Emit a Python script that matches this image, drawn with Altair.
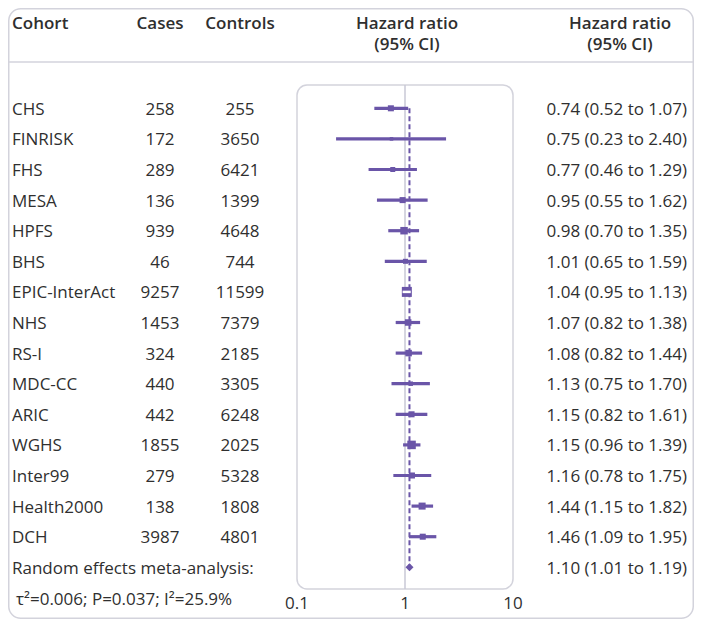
import altair as alt
import pandas as pd

# ---- data -------------------------------------------------------------
cohorts = ["CHS", "FINRISK", "FHS", "MESA", "HPFS", "BHS", "EPIC-InterAct", "NHS",
           "RS-I", "MDC-CC", "ARIC", "WGHS", "Inter99", "Health2000", "DCH"]
cases = [258, 172, 289, 136, 939, 46, 9257, 1453, 324, 440, 442, 1855, 279, 138, 3987]
controls = [255, 3650, 6421, 1399, 4648, 744, 11599, 7379, 2185, 3305, 6248, 2025, 5328, 1808, 4801]
hr = [0.74, 0.75, 0.77, 0.95, 0.98, 1.01, 1.04, 1.07, 1.08, 1.13, 1.15, 1.15, 1.16, 1.44, 1.46]
lo = [0.52, 0.23, 0.46, 0.55, 0.70, 0.65, 0.95, 0.82, 0.82, 0.75, 0.82, 0.96, 0.78, 1.15, 1.09]
hi = [1.07, 2.40, 1.29, 1.62, 1.35, 1.59, 1.13, 1.38, 1.44, 1.70, 1.61, 1.39, 1.75, 1.82, 1.95]
weights = [5.8, 2.0, 4.0, 5.8, 9.0, 4.0, 16.0, 6.8, 6.8, 3.2, 5.8, 11.6, 5.8, 7.9, 5.8]

meta_label = "Random effects meta-analysis:"
meta_stats = "τ²=0.006; P=0.037; I²=25.9%"
meta_hr, meta_lo, meta_hi = 1.10, 1.01, 1.19
axis_ticks = [0.1, 1, 10]

headers_left = ["Cohort", "Cases", "Controls"]
header_hr = ["Hazard ratio", "(95% CI)"]

# ---- tables -----------------------------------------------------------
df = pd.DataFrame(dict(cohort=cohorts, cases=cases, controls=controls,
                       hr=hr, lo=lo, hi=hi, w=weights))
df["row"] = range(len(df))
df["label"] = [f"{h:.2f} ({l:.2f} to {u:.2f})" for h, l, u in zip(hr, lo, hi)]

meta = pd.DataFrame(dict(hr=[meta_hr], lo=[meta_lo], hi=[meta_hi],
                         row=[len(cohorts)], top=[0],
                         label=[f"{meta_hr:.2f} ({meta_lo:.2f} to {meta_hi:.2f})"],
                         name=[meta_label], stats=[meta_stats]))
ticks = pd.DataFrame(dict(t=axis_ticks, lab=["0.1", "1", "10"]))
box = pd.DataFrame(dict(a=[min(axis_ticks)], b=[max(axis_ticks)], one=[1.0]))
one = pd.DataFrame(dict(z=[0]))

# ---- style ------------------------------------------------------------
PURPLE = "#6a55a8"
TXT = "#2f2f2f"
GRAY = "#d3d3dc"
FONT = "Open Sans"
FS = 17
W, H = 686, 611

xs = alt.Scale(type="log", domain=[0.1, 10], range=[289, 505], nice=False)
ys = alt.Scale(domain=[0, 15], range=[100.3, 559.3], nice=False, zero=False)


def X(f):
    return alt.X(f, type="quantitative", scale=xs, axis=None)


def Y(f):
    return alt.Y(f, type="quantitative", scale=ys, axis=None)


layers = []

# outer border
layers.append(alt.Chart(one).mark_rect(fillOpacity=0, stroke=GRAY, strokeWidth=1.5,
                                       cornerRadius=12).encode(
    x=alt.value(0.75), x2=alt.value(W - 0.75), y=alt.value(0.75), y2=alt.value(H - 0.75)))
# header separator
layers.append(alt.Chart(one).mark_rule(color=GRAY, strokeWidth=1.5).encode(
    x=alt.value(0), x2=alt.value(W), y=alt.value(54)))
# plot box
layers.append(alt.Chart(box).mark_rect(fillOpacity=0, stroke=GRAY, strokeWidth=1.5,
                                       cornerRadius=10).encode(
    x=X("a"), x2="b", y=alt.value(77), y2=alt.value(581)))
# line of no effect
layers.append(alt.Chart(box).mark_rule(color="#c8c9d6", strokeWidth=1.5).encode(
    x=X("one"), y=alt.value(77), y2=alt.value(581)))
# dashed pooled line
layers.append(alt.Chart(meta).mark_rule(color=PURPLE, strokeWidth=2, strokeDash=[5, 3]).encode(
    x=X("hr"), y=Y("top"), y2="row"))
# CIs
layers.append(alt.Chart(df).mark_rule(color=PURPLE, strokeWidth=3.2).encode(
    x=X("lo"), x2="hi", y=Y("row")))
# squares
layers.append(alt.Chart(df).mark_square(color=PURPLE, filled=True, opacity=1).encode(
    x=X("hr"), y=Y("row"),
    size=alt.Size("w:Q", scale=alt.Scale(domain=[0, 16], range=[0, 100]), legend=None)))
# CI inside the large square shown in white
layers.append(alt.Chart(df).transform_filter("datum.w >= 15").mark_rule(
    color="white", strokeWidth=2.5).encode(x=X("lo"), x2="hi", y=Y("row")))
# pooled diamond
layers.append(alt.Chart(meta).mark_point(shape="diamond", filled=True, color=PURPLE,
                                         opacity=1, size=64).encode(x=X("hr"), y=Y("row")))

txt = dict(font=FONT, fontSize=FS, color=TXT, baseline="middle", dy=1.5)
layers.append(alt.Chart(df).mark_text(align="left", **txt).encode(
    x=alt.value(4), y=Y("row"), text="cohort"))
layers.append(alt.Chart(df).mark_text(align="center", **txt).encode(
    x=alt.value(152), y=Y("row"), text="cases:N"))
layers.append(alt.Chart(df).mark_text(align="center", **txt).encode(
    x=alt.value(232), y=Y("row"), text="controls:N"))
layers.append(alt.Chart(df).mark_text(align="right", **txt).encode(
    x=alt.value(679), y=Y("row"), text="label"))
# meta texts
layers.append(alt.Chart(meta).mark_text(align="left", **txt).encode(
    x=alt.value(4), y=Y("row"), text="name"))
layers.append(alt.Chart(meta).mark_text(align="right", **txt).encode(
    x=alt.value(679), y=Y("row"), text="label"))
layers.append(alt.Chart(meta).mark_text(align="left", font=FONT, fontSize=FS, color=TXT,
                                        baseline="middle").encode(
    x=alt.value(8), y=alt.value(592), text="stats"))
# tick labels
layers.append(alt.Chart(ticks).mark_text(align="center", font=FONT, fontSize=FS, color=TXT,
                                         baseline="middle").encode(
    x=X("t"), y=alt.value(596), text="lab"))

# headers
hdr = dict(font=FONT, fontSize=FS, color=TXT, baseline="middle", fontWeight=600)
for name, xpos, al in zip(headers_left, [4, 152, 232], ["left", "center", "center"]):
    layers.append(alt.Chart(one).mark_text(align=al, text=name, **hdr).encode(
        x=alt.value(xpos), y=alt.value(16)))
for cx in [399, 612]:
    for line, yy in zip(header_hr, [16, 37]):
        layers.append(alt.Chart(one).mark_text(align="center", text=line, **hdr).encode(
            x=alt.value(cx), y=alt.value(yy)))

chart = alt.layer(*layers).properties(
    width=W, height=H, padding=0,
    autosize=alt.AutoSizeParams(type="none"),
).configure_view(stroke=None)

chart.save("out.html", embed_options={"renderer": "svg", "actions": False})
